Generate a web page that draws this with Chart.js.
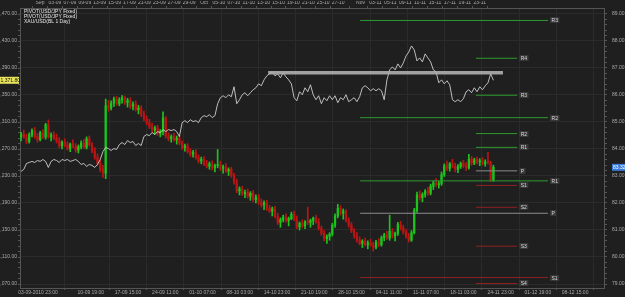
<!DOCTYPE html>
<html><head><meta charset="utf-8">
<script src="https://cdn.jsdelivr.net/npm/chart.js@4.4.0/dist/chart.umd.min.js"></script>
<style>html,body{margin:0;padding:0;background:#1f1f1f;overflow:hidden}#wrap{width:625px;height:297px;position:relative}</style>
</head><body><div id="wrap"><canvas id="c" width="625" height="297"></canvas></div>
<script>
// USD/JPY bars: [open, high, low, close], x = bar index
const candles = [
[84.45,84.62,84.30,84.55],[84.55,84.70,84.40,84.42],[84.42,84.55,84.20,84.28],[84.28,84.60,84.22,84.52],
[84.52,84.75,84.45,84.68],[84.68,84.80,84.40,84.46],[84.46,84.58,84.25,84.35],[84.35,84.65,84.30,84.60],
[84.60,84.72,84.38,84.44],[84.44,84.95,84.36,84.90],[84.90,85.08,84.40,84.45],[84.45,84.60,84.30,84.52],
[84.52,84.64,84.35,84.40],[84.40,84.55,84.22,84.30],[84.30,84.42,84.05,84.12],[84.12,84.30,84.00,84.25],
[84.25,84.38,84.08,84.14],[84.14,84.26,83.95,84.02],[84.02,84.22,83.90,84.18],[84.18,84.34,84.05,84.10],
[84.10,84.20,83.88,83.96],[83.96,84.15,83.85,84.08],[84.08,84.30,84.00,84.22],[84.22,84.35,84.02,84.06],
[84.06,84.45,84.00,84.38],[84.38,84.48,84.10,84.16],[84.16,84.24,83.85,83.92],[83.92,84.05,83.62,83.70],
[83.70,83.82,83.40,83.48],[83.48,83.60,83.15,83.25],[83.25,83.40,82.95,83.10],[83.10,85.85,82.90,85.60],
[85.60,85.80,85.40,85.52],[85.52,85.78,85.45,85.70],[85.70,85.92,85.58,85.85],[85.85,85.95,85.62,85.68],
[85.68,85.90,85.60,85.82],[85.82,85.98,85.70,85.90],[85.90,85.96,85.65,85.72],[85.72,85.88,85.55,85.80],
[85.80,85.90,85.50,85.58],[85.58,85.75,85.45,85.66],[85.66,85.78,85.40,85.46],[85.46,85.62,85.30,85.52],
[85.52,85.60,85.20,85.28],[85.28,85.40,85.05,85.12],[85.12,85.22,84.90,84.98],[84.98,85.10,84.75,84.82],
[84.82,84.95,84.60,84.70],[84.70,84.85,84.55,84.78],[84.78,84.88,84.50,84.58],[84.58,84.72,84.45,84.64],
[84.64,85.38,84.52,85.15],[85.15,85.20,84.40,84.48],[84.48,84.60,84.30,84.38],[84.38,84.52,84.25,84.46],
[84.46,84.58,84.28,84.34],[84.34,84.48,84.18,84.40],[84.40,84.50,84.15,84.22],[84.22,84.30,83.98,84.05],
[84.05,84.18,83.92,84.12],[84.12,84.20,83.85,83.90],[83.90,84.02,83.72,83.80],[83.80,83.95,83.70,83.88],
[83.88,83.98,83.62,83.68],[83.68,83.78,83.48,83.55],[83.55,83.70,83.45,83.62],[83.62,83.72,83.38,83.44],
[83.44,83.58,83.30,83.36],[83.36,83.52,83.25,83.45],[83.45,83.56,83.22,83.30],[83.30,83.44,83.15,83.38],
[83.38,83.98,83.30,83.42],[83.42,83.55,83.20,83.28],[83.28,83.40,83.10,83.34],[83.34,83.46,83.12,83.18],
[83.18,83.30,83.02,83.24],[83.24,83.32,82.95,83.02],[83.02,83.10,82.70,82.78],[82.78,82.88,82.38,82.45],
[82.45,82.60,82.30,82.52],[82.52,82.62,82.28,82.34],[82.34,82.48,82.20,82.40],[82.40,82.52,82.18,82.25],
[82.25,82.42,82.10,82.36],[82.36,82.46,82.05,82.12],[82.12,82.30,82.00,82.22],[82.22,82.32,81.95,82.02],
[82.02,82.15,81.85,81.92],[81.92,82.08,81.75,82.00],[82.00,82.10,81.72,81.80],[81.80,81.92,81.65,81.70],
[81.70,81.85,81.52,81.78],[81.78,81.88,81.45,81.50],[81.50,81.62,81.20,81.28],[81.28,81.45,81.10,81.38],
[81.38,81.55,81.30,81.48],[81.48,81.60,81.28,81.35],[81.35,81.48,81.15,81.42],[81.42,81.66,81.38,81.58],
[81.58,81.70,81.35,81.40],[81.40,81.52,81.05,81.12],[81.12,81.30,81.00,81.25],[81.25,81.38,81.08,81.16],
[81.16,81.35,81.05,81.30],[81.30,81.85,81.20,81.28],[81.28,81.40,81.10,81.35],[81.35,81.48,81.20,81.44],
[81.44,81.55,81.25,81.30],[81.30,81.42,81.00,81.06],[81.06,81.15,80.80,80.88],[80.88,80.98,80.60,80.68],
[80.68,80.82,80.50,80.76],[80.76,80.90,80.62,80.85],[80.85,81.25,80.78,81.18],[81.18,81.60,81.10,81.52],
[81.52,81.95,81.45,81.80],[81.80,81.90,81.55,81.62],[81.62,81.78,81.40,81.70],[81.70,81.76,81.30,81.36],
[81.36,81.45,81.10,81.18],[81.18,81.28,80.90,80.96],[80.96,81.05,80.70,80.78],[80.78,80.90,80.55,80.62],
[80.62,80.75,80.45,80.50],[80.50,80.64,80.35,80.58],[80.58,80.70,80.40,80.46],[80.46,80.60,80.30,80.52],
[80.52,80.66,80.40,80.44],[80.44,80.55,80.22,80.36],[80.36,80.62,80.30,80.55],[80.55,80.68,80.38,80.45],
[80.45,80.78,80.40,80.72],[80.72,80.88,80.60,80.82],[80.82,80.95,80.65,80.70],[80.70,81.55,80.62,80.95],
[80.95,81.05,80.70,80.78],[80.78,80.92,80.60,80.88],[80.88,81.28,80.80,81.20],[81.20,81.32,81.00,81.08],
[81.08,81.18,80.85,80.92],[80.92,81.02,80.70,80.76],[80.76,80.88,80.55,80.62],[80.62,80.98,80.58,80.90],
[80.90,81.80,80.85,81.72],[81.72,82.40,81.65,82.30],[82.30,82.45,82.10,82.20],[82.20,82.38,82.05,82.32],
[82.32,82.50,82.22,82.44],[82.44,82.58,82.28,82.36],[82.36,82.70,82.30,82.62],[82.62,82.82,82.50,82.75],
[82.75,82.90,82.60,82.68],[82.68,82.80,82.55,82.72],[82.72,83.15,82.65,83.05],[83.05,83.45,82.98,83.38],
[83.38,83.55,83.20,83.28],[83.28,83.50,83.18,83.45],[83.45,83.62,83.30,83.36],[83.36,83.48,83.15,83.24],
[83.24,83.42,83.12,83.35],[83.35,83.52,83.28,83.46],[83.46,83.58,83.30,83.38],[83.38,83.50,83.20,83.30],
[83.30,83.80,83.25,83.62],[83.62,83.72,83.40,83.48],[83.48,83.66,83.42,83.60],[83.60,83.70,83.45,83.52],
[83.52,83.64,83.38,83.56],[83.56,83.68,83.40,83.46],[83.46,83.60,83.36,83.52],[83.52,83.88,83.44,83.50],
[83.50,83.55,82.80,82.86],[82.86,83.40,82.80,83.32]
];
// XAU/USD close, one per bar (left axis)
const gold = [
1236.8,1239.8,1248.6,1250.1,1251.6,1250.1,1253.0,1251.6,1254.5,1251.6,1242.7,1251.6,1254.5,1253.0,1250.1,1254.5,
1253.0,1254.5,1251.6,1253.0,1254.5,1251.6,1247.1,1248.6,1244.2,1247.1,1245.7,1242.7,1247.1,1254.5,1266.3,1272.2,
1270.7,1267.8,1270.7,1269.3,1276.6,1279.6,1276.6,1282.5,1279.6,1281.1,1275.2,1278.1,1275.2,1288.5,1291.4,1289.9,
1294.4,1291.4,1295.8,1294.4,1298.8,1295.8,1298.8,1297.3,1298.8,1295.8,1288.5,1309.1,1312.0,1309.1,1313.5,1310.6,
1312.0,1309.1,1316.5,1319.4,1317.9,1320.9,1316.5,1319.4,1337.1,1346.0,1348.9,1346.0,1350.4,1347.4,1362.2,1337.1,
1343.0,1350.4,1353.4,1348.9,1353.4,1357.8,1360.7,1366.6,1363.7,1372.5,1378.4,1381.4,1384.3,1378.4,1381.4,1375.5,
1382.9,1377.0,1372.5,1366.6,1346.0,1341.5,1354.8,1350.4,1360.7,1354.8,1365.2,1350.4,1343.0,1348.9,1337.1,1346.0,
1341.5,1348.9,1343.0,1348.9,1338.6,1346.0,1343.0,1350.4,1340.1,1343.0,1346.0,1340.1,1347.4,1360.7,1363.7,1360.7,
1356.3,1359.3,1356.3,1359.3,1356.3,1343.0,1372.5,1387.3,1391.7,1387.3,1396.1,1390.2,1397.6,1407.9,1413.8,1422.7,
1416.8,1400.6,1405.0,1399.1,1410.9,1405.0,1399.1,1387.3,1384.3,1368.1,1372.5,1366.6,1371.1,1365.2,1343.0,1340.1,
1343.0,1340.1,1344.5,1354.8,1357.8,1353.4,1360.7,1354.8,1362.2,1357.8,1363.7,1368.1,1381.4,1371.8
];
// pivot levels (USD/JPY)
const monthlyLabels = ['R3','R2','R1','P','S1'];
const monthlyValues = [88.76,85.16,82.82,81.62,79.24];
const monthlyRange = [124.2,193.0];
const weeklyLabels = ['R4','R3','R2','R1','P','S1','S2','S3','S4'];
const weeklyValues = [87.36,85.99,84.57,84.06,83.19,82.65,81.84,80.40,79.02];
const weeklyRange = [166.6,181.7];
const priceLineValue = 1383;
const priceLineRange = [90.5,176.5];
// axis ticks
const bottomTickPos = [6.2,25.53,39.18,52.82,66.47,80.11,93.75,107.4,121.04,134.69,148.33,161.98,175.62,189.27,202.91];
const bottomTickLabels = ['03-09-2010 23:00','10-09 19:00','17-09 15:00','24-09 11:00','01-10 07:00','08-10 03:00','14-10 23:00','21-10 19:00','28-10 15:00','04-11 11:00','11-11 07:00','18-11 03:00','24-11 23:00','01-12 19:00','08-12 15:00'];
const topTickPos = [3.53,9.18,14.83,20.47,26.12,31.77,37.41,43.06,48.71,54.35,60.0,65.65,71.29,76.94,82.59,88.23,93.88,99.53,105.17,110.82,116.47,124.94,130.58,136.23,141.88,147.52,153.17,158.82,164.46,170.11];
const topTickLabels = ['Sep','03-09','07-09','09-09','13-09','15-09','17-09','21-09','23-09','27-09','29-09','Oct','05-10','07-10','11-10','13-10','15-10','19-10','21-10','25-10','27-10','Nov','03-11','05-11','09-11','11-11','15-11','17-11','19-11','23-11'];
const rightTicks = [79,80,81,82,83,84,85,86,87,88,89];
const leftTicks = [1070,1110,1150,1190,1230,1270,1310,1350,1390,1430,1470];
const legendItems = ['PIVOT(USD/JPY Fixed)','PIVOT(USD/JPY Fixed)','XAU/USD(BL 1 Day)'];

const UP='#1cc41c', DN='#bc1414';
const col = candles.map(c => c[3] >= c[0] ? UP : DN);
const FAM = '"Liberation Sans", Arial, sans-serif';
const FONT = {family:FAM, size:5};
const AX = '#555555', GRID = '#2b2b2b', TXT = '#aaaaaa';

function hLine(v, r, color, axis, w, order){
  return {type:'line', data:[{x:r[0],y:v},{x:r[1],y:v}], borderColor:color, borderWidth:w,
    pointRadius:0, yAxisID:axis, xAxisID:'x', order:order};
}
const pivColor = l => l[0]==='R' ? '#2f9a2f' : (l[0]==='S' ? '#8e2222' : '#8c8c8c');
const datasets = [
  {type:'bar', data:candles.map((c,i)=>({x:i,y:[c[2],c[1]]})), backgroundColor:col, barThickness:1, grouped:false, yAxisID:'y', order:6},
  {type:'bar', data:candles.map((c,i)=>({x:i,y:[c[0],c[3]]})), backgroundColor:col, barThickness:1.6, minBarLength:1, grouped:false, yAxisID:'y', order:5},
  ...monthlyValues.map((v,k)=>hLine(v, monthlyRange, pivColor(monthlyLabels[k]), 'y', 1, 3)),
  ...weeklyValues.map((v,k)=>hLine(v, weeklyRange, pivColor(weeklyLabels[k]), 'y', 1, 3)),
  {type:'line', data:gold.map((v,i)=>({x:i,y:v})), borderColor:'#cfcfcf', borderWidth:0.9, pointRadius:0, tension:0, yAxisID:'yL', order:2},
  hLine(priceLineValue, priceLineRange, 'rgba(175,175,175,0.9)', 'yL', 3.5, 1)
];

function minorTicks(major, step, sub){
  const out=[];
  for(let k=0;k<major.length;k++){ out.push({value:major[k], major:true});
    if(k<major.length-1) for(let s=1;s<sub;s++) out.push({value:major[k]+step*s/sub, major:false}); }
  return out;
}
const isMajor = c => c.tick && c.tick.major;

const overlay = {
  id:'overlay',
  afterDraw(chart){
    const {ctx, chartArea:a} = chart;
    const x = chart.scales.x, y = chart.scales.y, yL = chart.scales.yL;
    ctx.save();
    ctx.font = '5px ' + FAM;
    ctx.textBaseline = 'middle';
    const lab = (labels, values, end) => labels.forEach((l,k)=>{
      const px = x.getPixelForValue(end)+2, py = Math.round(y.getPixelForValue(values[k]));
      const w = ctx.measureText(l).width+3;
      ctx.fillStyle='#383838'; ctx.fillRect(px, py-3, w, 6);
      ctx.fillStyle='#d8d8d8'; ctx.textAlign='left'; ctx.fillText(l, px+1.5, py+0.5);
    });
    lab(monthlyLabels, monthlyValues, monthlyRange[1]);
    lab(weeklyLabels, weeklyValues, weeklyRange[1]);
    // legend
    ctx.textAlign='left'; ctx.fillStyle='#e6e6e6';
    legendItems.forEach((t,k)=>ctx.fillText(t, a.left+4, a.top+4+k*5));
    // last price tags
    const lc = candles[candles.length-1][3];
    const ry = y.getPixelForValue(lc);
    ctx.fillStyle='#3a7cdc'; ctx.fillRect(a.right+8, ry-3.5, 16, 7);
    ctx.fillStyle='#ffffff'; ctx.fillText(lc.toFixed(2), a.right+9, ry+0.5);
    const lg = gold[gold.length-1];
    const ly = yL.getPixelForValue(lg);
    ctx.fillStyle='#e8e45c'; ctx.fillRect(0, ly-3.5, a.left-1, 7);
    ctx.fillStyle='#111111';
    ctx.fillText(lg.toLocaleString('en-US',{minimumFractionDigits:2,maximumFractionDigits:2}), 0.5, ly+0.5);
    ctx.restore();
  }
};

new Chart(document.getElementById('c'), {
  type:'bar',
  data:{datasets},
  options:{
    responsive:false, animation:false, events:[],
    layout:{padding:0},
    plugins:{legend:{display:false}, tooltip:{enabled:false}},
    scales:{
      x:{type:'linear', position:'bottom', min:-0.385, max:213.5, bounds:'data', offset:false,
        afterBuildTicks:s=>{s.ticks=bottomTickPos.map(v=>({value:v}));},
        afterFit:s=>{s.height=9;},
        ticks:{autoSkip:false, maxRotation:0, padding:0, color:TXT, font:FONT, callback:(v,i)=>bottomTickLabels[i]},
        grid:{color:GRID, tickColor:AX, tickLength:2}, border:{color:AX}},
      x2:{type:'linear', position:'top', min:-0.385, max:213.5, bounds:'data',
        afterBuildTicks:s=>{s.ticks=topTickPos.map(v=>({value:v}));},
        afterFit:s=>{s.height=7;},
        ticks:{autoSkip:false, maxRotation:0, padding:0, color:TXT, font:FONT, callback:(v,i)=>topTickLabels[i]},
        grid:{drawOnChartArea:false, tickColor:AX, tickLength:2}, border:{color:AX}},
      y:{type:'linear', position:'right', min:78.852, max:89.221, bounds:'data',
        afterBuildTicks:s=>{s.ticks=minorTicks(rightTicks,1,5);},
        afterFit:s=>{s.width=21;},
        ticks:{autoSkip:false, padding:5, color:TXT, font:FONT, callback:function(v,i,t){return t[i].major? v.toFixed(2):'';}},
        grid:{color:c=>isMajor(c)?GRID:'rgba(0,0,0,0)', tickColor:AX, tickLength:3}, border:{color:AX}},
      yL:{type:'linear', position:'left', min:1064.1, max:1478.9, bounds:'data',
        afterBuildTicks:s=>{s.ticks=minorTicks(leftTicks,40,5);},
        afterFit:s=>{s.width=20;},
        ticks:{autoSkip:false, padding:1, color:TXT, font:FONT, callback:function(v,i,t){return t[i].major? v.toLocaleString('en-US',{minimumFractionDigits:2}):'';}},
        grid:{drawOnChartArea:false, tickColor:AX, tickLength:2}, border:{color:AX}}
    }
  },
  plugins:[overlay]
});
</script></body></html>
